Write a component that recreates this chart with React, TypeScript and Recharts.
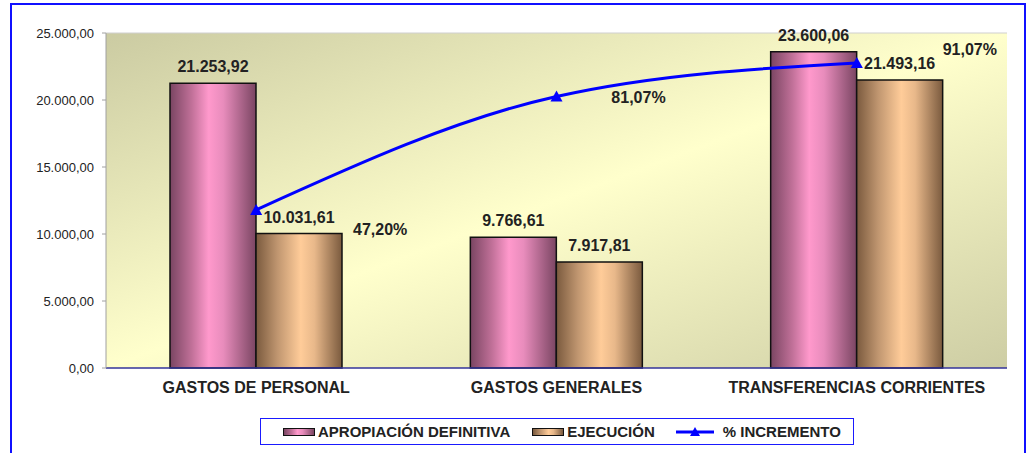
import React from 'react';
import { ComposedChart, Bar, Line, XAxis, YAxis, CartesianGrid, LabelList, ReferenceLine } from 'recharts';

const categories = ['GASTOS DE PERSONAL', 'GASTOS GENERALES', 'TRANSFERENCIAS CORRIENTES'];
const apropiacion = [21253.92, 9766.61, 23600.06];
const ejecucion = [10031.61, 7917.81, 21493.16];
const incremento = [47.2, 81.07, 91.07];
const yTicks = [0, 5000, 10000, 15000, 20000, 25000];
const seriesNames = ['APROPIACIÓN DEFINITIVA', 'EJECUCIÓN', '% INCREMENTO'];

// label placement offsets (style, not data)
const pctLabelOffsets = [
  [124, 25],
  [82, 7],
  [113, -8],
];

const data = categories.map((c, i) => ({
  name: c,
  apropiacion: apropiacion[i],
  ejecucion: ejecucion[i],
  incremento: incremento[i],
}));

function fmt(v: number, dec = 2) {
  const fixed = Number(v).toFixed(dec);
  const [int, frac] = fixed.split('.');
  const withDots = int.replace(/\B(?=(\d{3})+(?!\d))/g, '.');
  return frac ? withDots + ',' + frac : withDots;
}

const FONT = '"Liberation Sans", Arial, Helvetica, sans-serif';
const TEXT = '#222222';

const BarValueLabel = (props: any) => {
  const { x, y, width, value } = props;
  return (
    <text x={x + width / 2} y={y - 11} textAnchor="middle" fontFamily={FONT} fontWeight="bold" fontSize={16} fill={TEXT}>
      {fmt(value)}
    </text>
  );
};

const PctLabel = (props: any) => {
  const { x, y, value, index } = props;
  const off = pctLabelOffsets[index] || [0, 0];
  return (
    <text x={x + off[0]} y={y + off[1]} textAnchor="middle" fontFamily={FONT} fontWeight="bold" fontSize={16} fill={TEXT}>
      {fmt(value) + '%'}
    </text>
  );
};

const TriangleDot = (props: any) => {
  const { cx, cy, index } = props;
  if (cx == null || cy == null) return null;
  return <polygon key={'t' + index} points={`${cx},${cy - 6} ${cx - 6},${cy + 5} ${cx + 6},${cy + 5}`} fill="#0000ff" />;
};

const pinkCss = 'linear-gradient(to right, #7a4562 0%, #c07098 25%, #ff99cc 45%, #e88cbc 62%, #7a4562 100%)';
const orangeCss = 'linear-gradient(to right, #7a5a3e 0%, #c09670 25%, #ffcc99 52%, #e8b88a 68%, #7a5a3e 100%)';

const Legend = () => (
  <div
    style={{
      position: 'absolute',
      left: 260,
      top: 418,
      width: 592,
      height: 25,
      border: '1.5px solid #1a1aff',
      display: 'flex',
      alignItems: 'center',
      fontFamily: FONT,
      fontWeight: 'bold',
      fontSize: 15,
      color: TEXT,
      whiteSpace: 'nowrap',
    }}
  >
    <div style={{ width: 30, height: 6, border: '1.5px solid #111', background: pinkCss, marginLeft: 22 }} />
    <span style={{ marginLeft: 3 }}>{seriesNames[0]}</span>
    <div style={{ width: 30, height: 6, border: '1.5px solid #111', background: orangeCss, marginLeft: 22 }} />
    <span style={{ marginLeft: 3 }}>{seriesNames[1]}</span>
    <svg width={38} height={12} style={{ marginLeft: 21 }}>
      <line x1={0} y1={6} x2={38} y2={6} stroke="#0000ff" strokeWidth={3} />
      <polygon points="19,1 14,10 24,10" fill="#0000ff" />
    </svg>
    <span style={{ marginLeft: 9 }}>{seriesNames[2]}</span>
  </div>
);

export default function App() {
  return (
    <div style={{ position: 'absolute', left: 0, top: 0, width: 1029, height: 453, background: '#fff', overflow: 'hidden' }}>
      <div
        style={{
          position: 'absolute',
          left: 10,
          top: 3,
          width: 1012,
          height: 470,
          border: '2px solid #1010ff',
        }}
      />
      <div style={{ position: 'absolute', left: 0, top: 0 }}>
        <ComposedChart
          width={1029}
          height={453}
          data={data}
          margin={{ top: 33, right: 22, left: 10, bottom: 55 }}
          barGap={0}
        >
          <defs>
            <linearGradient id="gBg" x1="0" y1="0" x2="1" y2="1">
              <stop offset="0%" stopColor="#cbcba2" />
              <stop offset="50%" stopColor="#ffffcc" />
              <stop offset="100%" stopColor="#cdcda4" />
            </linearGradient>
            <linearGradient id="gPink" x1="0" y1="0" x2="1" y2="0">
              <stop offset="0%" stopColor="#7a4562" />
              <stop offset="25%" stopColor="#c07098" />
              <stop offset="45%" stopColor="#ff99cc" />
              <stop offset="62%" stopColor="#e88cbc" />
              <stop offset="100%" stopColor="#7a4562" />
            </linearGradient>
            <linearGradient id="gOrange" x1="0" y1="0" x2="1" y2="0">
              <stop offset="0%" stopColor="#7a5a3e" />
              <stop offset="25%" stopColor="#c09670" />
              <stop offset="52%" stopColor="#ffcc99" />
              <stop offset="68%" stopColor="#e8b88a" />
              <stop offset="100%" stopColor="#7a5a3e" />
            </linearGradient>
          </defs>
          <CartesianGrid horizontal={false} vertical={false} fill="url(#gBg)" />
          <XAxis
            dataKey="name"
            height={30}
            axisLine={{ stroke: '#33339a', strokeWidth: 1.5 }}
            tickLine={false}
            tickSize={6}
            tickMargin={8}
            tick={{ fontFamily: FONT, fontWeight: 'bold', fontSize: 16, fill: TEXT }}
            interval={0}
          />
          <YAxis
            width={96}
            domain={[0, 25000]}
            ticks={yTicks}
            tickFormatter={(v: number) => fmt(v)}
            axisLine={{ stroke: '#a0a0a0' }}
            tickLine={{ stroke: '#a0a0a0' }}
            tickSize={4}
            tickMargin={8}
            tick={{ fontFamily: FONT, fontSize: 13, fill: TEXT }}
            interval={0}
          />
          <YAxis
            yAxisId="pct"
            orientation="right"
            width={0}
            domain={[0, 100]}
            tick={false}
            tickLine={false}
            axisLine={{ stroke: '#c4c4c4' }}
          />
          <ReferenceLine y={25000} stroke="#cfcfcf" />
          <Bar dataKey="apropiacion" name={seriesNames[0]} barSize={86} fill="url(#gPink)" stroke="#111" strokeWidth={1.5} isAnimationActive={false}>
            <LabelList dataKey="apropiacion" content={BarValueLabel} />
          </Bar>
          <Bar dataKey="ejecucion" name={seriesNames[1]} barSize={86} fill="url(#gOrange)" stroke="#111" strokeWidth={1.5} isAnimationActive={false}>
            <LabelList dataKey="ejecucion" content={BarValueLabel} />
          </Bar>
          <Line
            yAxisId="pct"
            dataKey="incremento"
            name={seriesNames[2]}
            type="monotone"
            stroke="#0000ff"
            strokeWidth={3}
            dot={TriangleDot}
            activeDot={false}
            isAnimationActive={false}
          >
            <LabelList dataKey="incremento" content={PctLabel} />
          </Line>
        </ComposedChart>
      </div>
      <Legend />
    </div>
  );
}
